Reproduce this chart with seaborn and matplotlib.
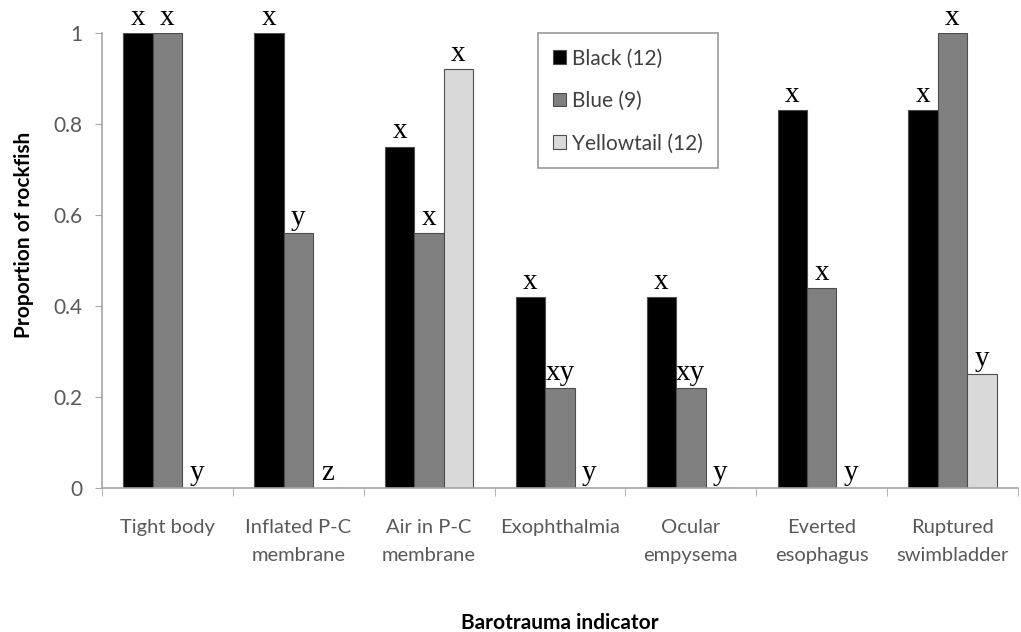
import numpy as np
import pandas as pd
import matplotlib
matplotlib.use("Agg")
import matplotlib.pyplot as plt
import seaborn as sns

# Barotrauma indicators and proportions of rockfish showing each one
indicators = ["Tight body", "Inflated P-C\nmembrane", "Air in P-C\nmembrane",
              "Exophthalmia", "Ocular\nempysema", "Everted\nesophagus",
              "Ruptured\nswimbladder"]
species = ["Black (12)", "Blue (9)", "Yellowtail (12)"]
black = [1.0, 1.0, 0.75, 0.42, 0.42, 0.83, 0.83]
blue = [1.0, 0.56, 0.56, 0.22, 0.22, 0.44, 1.0]
yellowtail = [0.0, 0.0, 0.92, 0.0, 0.0, 0.0, 0.25]

# Significance letters per species, in indicator order
black_letters = ["x", "x", "x", "x", "x", "x", "x"]
blue_letters = ["x", "y", "x", "xy", "xy", "x", "x"]
yellow_letters = ["y", "z", "x", "y", "y", "y", "y"]

yticks = [0, 0.2, 0.4, 0.6, 0.8, 1]
ytick_labels = ["0", "0.2", "0.4", "0.6", "0.8", "1"]

df = pd.DataFrame({
    "indicator": indicators * 3,
    "species": [species[0]] * 7 + [species[1]] * 7 + [species[2]] * 7,
    "proportion": black + blue + yellowtail,
})
letters = [black_letters, blue_letters, yellow_letters]

sns.set_style("white")
plt.rcParams["font.family"] = ["Lato", "DejaVu Sans"]

fig = plt.figure(figsize=(10.21, 6.32), dpi=100)
ax = fig.add_axes([0.0999, 0.2278, 0.8971, 0.7200])

palette = {species[0]: "#000000", species[1]: "#808080", species[2]: "#d9d9d9"}
sns.barplot(data=df, x="indicator", y="proportion", hue="species",
            order=indicators, hue_order=species, palette=palette,
            width=0.675, gap=0, saturation=1, errorbar=None,
            edgecolor="#4d4d4d", linewidth=0.8, ax=ax)

# Significance letters above each bar
for container, labs in zip(ax.containers, letters):
    for bar, lab in zip(container, labs):
        ax.text(bar.get_x() + bar.get_width() / 2, bar.get_height() + 0.005, lab,
                ha="center", va="bottom", fontsize=21,
                family="Liberation Serif", color="black", clip_on=False)

ax.set_xlim(-0.5, len(indicators) - 0.5)
ax.set_ylim(0, 1)
ax.set_yticks(yticks)
ax.set_yticklabels(ytick_labels)
ax.set_xticks(np.arange(len(indicators)))
ax.set_xticklabels(indicators, linespacing=1.8)
ax.set_xticks(np.arange(len(indicators) + 1) - 0.5, minor=True)
ax.tick_params(axis="x", which="major", length=0, pad=22, labelsize=14.5,
               labelcolor="#595959")
ax.tick_params(axis="x", which="minor", length=6, color="#a6a6a6",
               direction="out", bottom=True)
ax.tick_params(axis="y", length=5, color="#a6a6a6", direction="out", left=True,
               labelsize=15, labelcolor="#595959", pad=9)

for side in ["top", "right"]:
    ax.spines[side].set_visible(False)
for side in ["left", "bottom"]:
    ax.spines[side].set_color("#a6a6a6")
    ax.spines[side].set_linewidth(1.2)

ax.set_xlabel("Barotrauma indicator", fontsize=15, fontweight="bold", color="black")
ax.set_ylabel("Proportion of rockfish", fontsize=15, fontweight="bold", color="black")
ax.xaxis.set_label_coords(0.5, -0.275)
ax.yaxis.set_label_coords(-0.074, 0.556)

leg = ax.legend(loc="upper left", bbox_to_anchor=(0.4757, 0.9989),
                frameon=True, fontsize=15, handlelength=0.62, handleheight=0.62,
                handletextpad=0.3, labelspacing=1.08, borderpad=0.72,
                fancybox=False, borderaxespad=0)
leg.get_frame().set_edgecolor("#808080")
leg.get_frame().set_linewidth(1.2)
for t in leg.get_texts():
    t.set_color("#404040")

fig.savefig("out.png", dpi=100)
